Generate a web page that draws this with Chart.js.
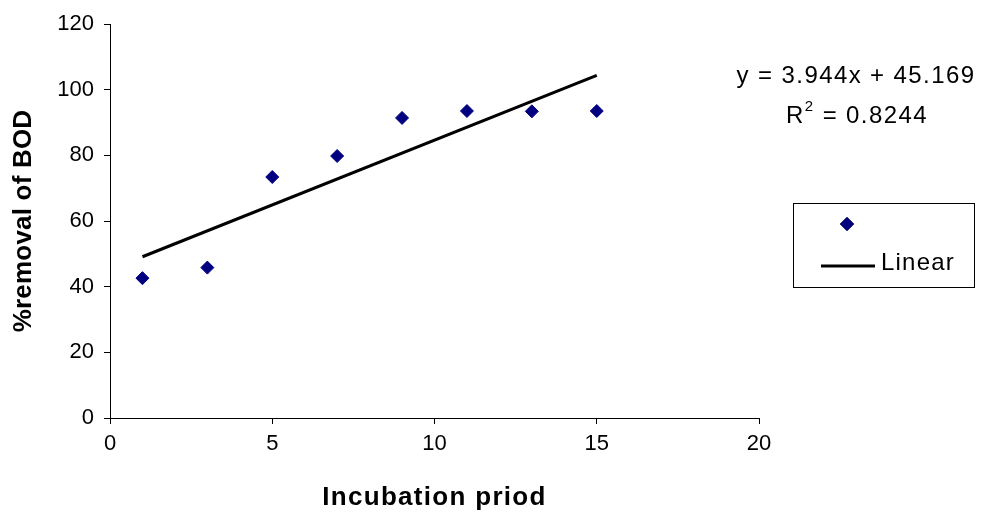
<!DOCTYPE html>
<html>
<head>
<meta charset="utf-8">
<script src="https://cdn.jsdelivr.net/npm/chart.js@4"></script>
<style>
  html, body { margin: 0; padding: 0; background: #fff; }
  #wrap { width: 986px; height: 512px; position: relative; }
</style>
</head>
<body>
<div id="wrap"><canvas id="c" width="986" height="512"></canvas></div>
<script>
// ---- data ----
const incubationX = [1, 3, 5, 7, 9, 11, 13, 15];
const bodRemoval = [42.6, 45.8, 73.4, 79.8, 91.4, 93.5, 93.4, 93.5];
const trendX = [1, 15];
const trendY = [49.113, 104.329];
const xTicks = [0, 5, 10, 15, 20];
const yTicks = [0, 20, 40, 60, 80, 100, 120];
const equationText = 'y = 3.944x + 45.169';
const r2Text = ' = 0.8244';
const seriesLabel = '';
const trendLabel = 'Linear';
const xTitle = 'Incubation priod';
const yTitle = '%removal of BOD';

const FONT = "'Liberation Sans', Arial, sans-serif";
const NAVY = '#000080';

// give axis titles the letter spacing of the original
const spacingPlugin = {
  id: 'titleSpacing',
  afterLayout(chart) {
    const spacing = { x: '1.3px', y: '0.2px' };
    Object.values(chart.scales).forEach(s => {
      if (s._patchedTitle) return;
      const orig = s.drawTitle;
      s.drawTitle = function () {
        const ctx = this.ctx;
        ctx.save();
        ctx.letterSpacing = spacing[this.id] || '0px';
        orig.call(this);
        ctx.restore();
      };
      s._patchedTitle = true;
    });
  }
};

const overlayPlugin = {
  id: 'overlay',
  afterDraw(chart) {
    const ctx = chart.ctx;
    ctx.save();
    ctx.fillStyle = '#000';
    ctx.letterSpacing = '1.4px';
    ctx.font = '24px ' + FONT;
    ctx.textBaseline = 'middle';
    ctx.textAlign = 'center';
    ctx.fillText(equationText, 856, 76);
    // R^2 line
    const rW = ctx.measureText('R').width;
    ctx.font = '15px ' + FONT;
    const sW = ctx.measureText('2').width;
    ctx.font = '24px ' + FONT;
    const restW = ctx.measureText(r2Text).width;
    const total = rW + sW + restW;
    let x0 = 857 - total / 2;
    ctx.textAlign = 'left';
    ctx.fillText('R', x0, 116);
    ctx.font = '15px ' + FONT;
    ctx.fillText('2', x0 + rW, 107);
    ctx.font = '24px ' + FONT;
    ctx.fillText(r2Text, x0 + rW + sW, 116);

    // legend box
    ctx.letterSpacing = '1.2px';
    ctx.lineWidth = 1;
    ctx.strokeStyle = '#000';
    ctx.strokeRect(793.5, 203.5, 181, 84);
    const ds0 = chart.data.datasets[0];
    const ds1 = chart.data.datasets[1];
    // scatter symbol
    ctx.beginPath();
    Chart.helpers.drawPoint(ctx, {pointStyle: 'rectRot', radius: 6.5, borderWidth: 1}, 847, 224);
    ctx.fillStyle = ds0.backgroundColor;
    ctx.strokeStyle = ds0.borderColor;
    ctx.fill();
    ctx.stroke();
    if (ds0.label) { ctx.fillStyle = '#000'; ctx.fillText(ds0.label, 862, 224); }
    // line symbol
    ctx.beginPath();
    ctx.strokeStyle = ds1.borderColor;
    ctx.lineWidth = ds1.borderWidth;
    ctx.moveTo(821, 266);
    ctx.lineTo(875, 266);
    ctx.stroke();
    ctx.fillStyle = '#000';
    ctx.font = '24px ' + FONT;
    ctx.textAlign = 'left';
    ctx.fillText(ds1.label, 881, 263);
    ctx.restore();
  }
};

new Chart(document.getElementById('c'), {
  type: 'scatter',
  data: {
    datasets: [
      {
        label: seriesLabel,
        data: incubationX.map((x, i) => ({x: x, y: bodRemoval[i]})),
        pointStyle: 'rectRot',
        pointRadius: 6.5,
        pointHoverRadius: 6.5,
        backgroundColor: NAVY,
        borderColor: NAVY,
        borderWidth: 1,
        order: 1
      },
      {
        type: 'line',
        label: trendLabel,
        data: trendX.map((x, i) => ({x: x, y: trendY[i]})),
        borderColor: '#000',
        borderWidth: 3,
        pointRadius: 0,
        fill: false,
        order: 2
      }
    ]
  },
  options: {
    responsive: false,
    animation: false,
    events: [],
    layout: { padding: { left: 0, right: 227, top: 24, bottom: 0 } },
    plugins: { legend: { display: false }, tooltip: { enabled: false } },
    scales: {
      x: {
        type: 'linear',
        min: 0, max: 20,
        afterBuildTicks: s => { s.ticks = xTicks.map(v => ({value: v})); },
        afterFit: s => { s.height = 94; },
        grid: { display: true, drawOnChartArea: false, drawTicks: true, tickLength: 6, color: '#000', tickColor: '#000' },
        border: { display: true, color: '#000', width: 1 },
        ticks: { color: '#000', padding: 7, font: { family: FONT, size: 22 }, maxRotation: 0 },
        title: { display: true, text: xTitle, color: '#000', font: { family: FONT, size: 26, weight: 'bold' }, padding: { top: 0, bottom: -1 } }
      },
      y: {
        type: 'linear',
        min: 0, max: 120,
        afterBuildTicks: s => { s.ticks = yTicks.map(v => ({value: v})); },
        afterFit: s => { s.width = 110; },
        grid: { display: true, drawOnChartArea: false, drawTicks: true, tickLength: 6, color: '#000', tickColor: '#000' },
        border: { display: true, color: '#000', width: 1 },
        ticks: { color: '#000', padding: 10, font: { family: FONT, size: 22 } },
        title: { display: true, text: yTitle, color: '#000', font: { family: FONT, size: 26, weight: 'bold' }, padding: { top: 8, bottom: 0 } }
      }
    }
  },
  plugins: [spacingPlugin, overlayPlugin]
});
</script>
</body>
</html>
